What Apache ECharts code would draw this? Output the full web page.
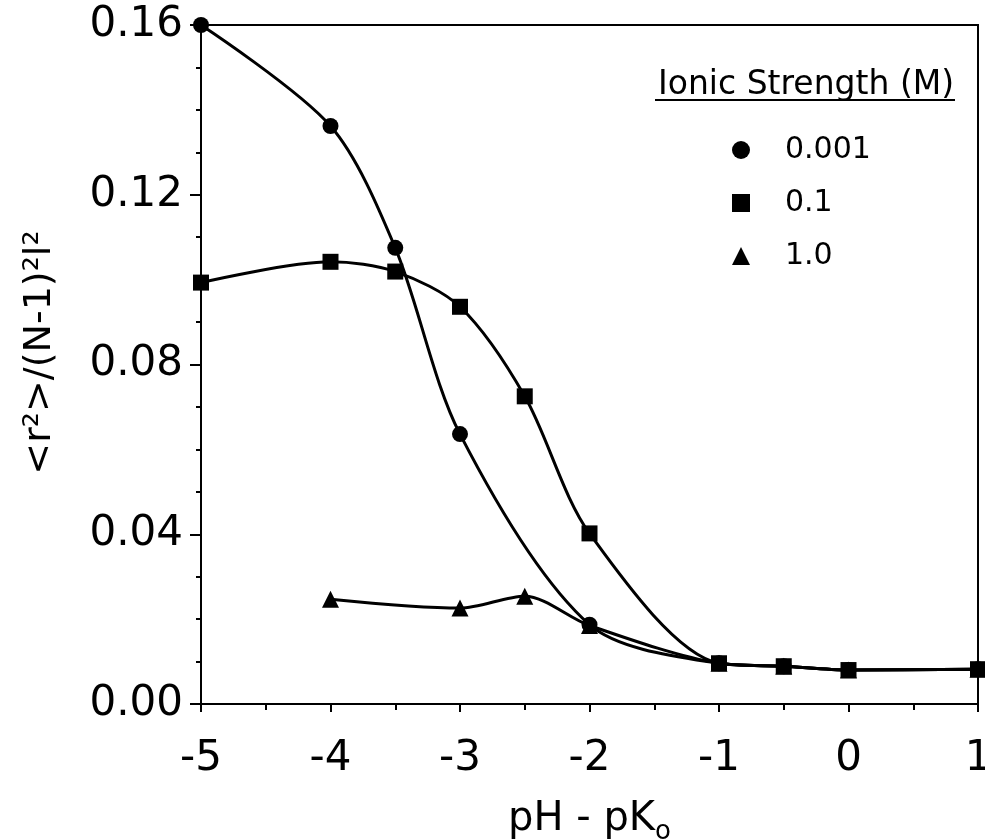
<!DOCTYPE html>
<html>
<head>
<meta charset="utf-8">
<script src="https://cdn.jsdelivr.net/npm/echarts@6/dist/echarts.min.js"></script>
<style>
  html, body { margin: 0; padding: 0; background: #fff; }
  #chart { width: 985px; height: 839px; }
</style>
</head>
<body>
<div id="chart"></div>
<script>
var myChart = echarts.init(document.getElementById('chart'));

// ionic strength 0.001 M
var phCircle = [-5, -4, -3.5, -3, -2, -1, -0.5, 0, 1];
var r2Circle = [0.160, 0.1362, 0.1075, 0.0636, 0.0187, 0.0096, 0.0089, 0.0080, 0.0082];
// ionic strength 0.1 M
var phSquare = [-5, -4, -3.5, -3, -2.5, -2, -1, -0.5, 0, 1];
var r2Square = [0.0993, 0.1042, 0.1019, 0.0936, 0.0725, 0.0402, 0.0096, 0.0089, 0.0080, 0.0082];
// ionic strength 1.0 M
var phTriangle = [-4, -3, -2.5, -2, -1, -0.5, 0, 1];
var r2Triangle = [0.0247, 0.0226, 0.0254, 0.0185, 0.0096, 0.0089, 0.0080, 0.0082];

var seriesNames = ['0.001', '0.1', '1.0'];
var legendTitle = 'Ionic Strength (M)';

function pairs(xs, ys) {
  return xs.map(function (x, i) { return [x, ys[i]]; });
}

var fontFamily = 'DejaVu Sans';

var lineStyle = { color: '#000', width: 3 };

var option = {
  animation: false,
  backgroundColor: '#fff',
  grid: {
    left: 201,
    right: 7,
    top: 25,
    bottom: 135,
    outerBoundsMode: 'none',
    containLabel: false,
    show: true,
    borderColor: '#000',
    borderWidth: 2
  },
  legend: {
    orient: 'vertical',
    left: 727,
    top: 130,
    itemWidth: 18,
    itemHeight: 18,
    itemGap: 23,
    textStyle: {
      fontFamily: fontFamily,
      fontSize: 30,
      color: '#000',
      padding: [0, 0, 0, 30]
    },
    data: [
      { name: seriesNames[0], icon: 'circle' },
      { name: seriesNames[1], icon: 'rect' },
      { name: seriesNames[2], icon: 'triangle' }
    ]
  },
  title: {
    text: legendTitle,
    left: 653,
    top: 64,
    textStyle: {
      fontFamily: fontFamily,
      fontSize: 33,
      fontWeight: 'normal',
      color: '#000'
    }
  },
  graphic: [
    {
      type: 'line',
      shape: { x1: 655, y1: 100, x2: 955, y2: 100 },
      style: { stroke: '#000', lineWidth: 2 }
    }
  ],
  xAxis: {
    type: 'value',
    min: -5,
    max: 1,
    interval: 1,
    name: '{a|pH - pK}{s|o}',
    nameLocation: 'middle',
    nameGap: 91,
    nameTextStyle: {
      rich: {
        a: { fontFamily: fontFamily, fontSize: 40, color: '#000' },
        s: { fontFamily: fontFamily, fontSize: 26, color: '#000', verticalAlign: 'bottom', padding: [24, 0, 0, 0] }
      }
    },
    axisLine: { onZero: false, lineStyle: { color: '#000', width: 2 } },
    axisTick: { length: 8, lineStyle: { color: '#000', width: 2 } },
    minorTick: { show: true, splitNumber: 2, length: 6, lineStyle: { color: '#000', width: 2 } },
    splitLine: { show: false },
    axisLabel: {
      margin: 34,
      fontFamily: fontFamily,
      fontSize: 42,
      color: '#000'
    }
  },
  yAxis: {
    type: 'value',
    min: 0,
    max: 0.16,
    interval: 0.04,
    name: '<r²>/(N-1)²l²',
    nameLocation: 'middle',
    nameGap: 142,
    nameTextStyle: {
      fontFamily: fontFamily,
      fontSize: 38,
      color: '#000',
      padding: [0, 0, 0, 24]
    },
    axisLine: { onZero: false, lineStyle: { color: '#000', width: 2 } },
    axisTick: { length: 11, lineStyle: { color: '#000', width: 2 } },
    minorTick: { show: true, splitNumber: 4, length: 5, lineStyle: { color: '#000', width: 2 } },
    splitLine: { show: false },
    axisLabel: {
      margin: 18,
      fontFamily: fontFamily,
      fontSize: 42,
      color: '#000',
      formatter: function (v) { return v.toFixed(2); }
    }
  },
  series: [
    {
      name: seriesNames[1],
      type: 'line',
      smooth: 0.3,
      symbol: 'rect',
      symbolSize: 16,
      itemStyle: { color: '#000' },
      lineStyle: lineStyle,
      data: pairs(phSquare, r2Square)
    },
    {
      name: seriesNames[2],
      type: 'line',
      smooth: 0.3,
      symbol: 'triangle',
      symbolSize: 17,
      itemStyle: { color: '#000' },
      lineStyle: lineStyle,
      data: pairs(phTriangle, r2Triangle)
    },
    {
      name: seriesNames[0],
      type: 'line',
      smooth: 0.3,
      symbol: 'circle',
      symbolSize: 16,
      itemStyle: { color: '#000' },
      lineStyle: lineStyle,
      data: pairs(phCircle, r2Circle)
    }
  ]
};

option && myChart.setOption(option);
</script>
</body>
</html>
